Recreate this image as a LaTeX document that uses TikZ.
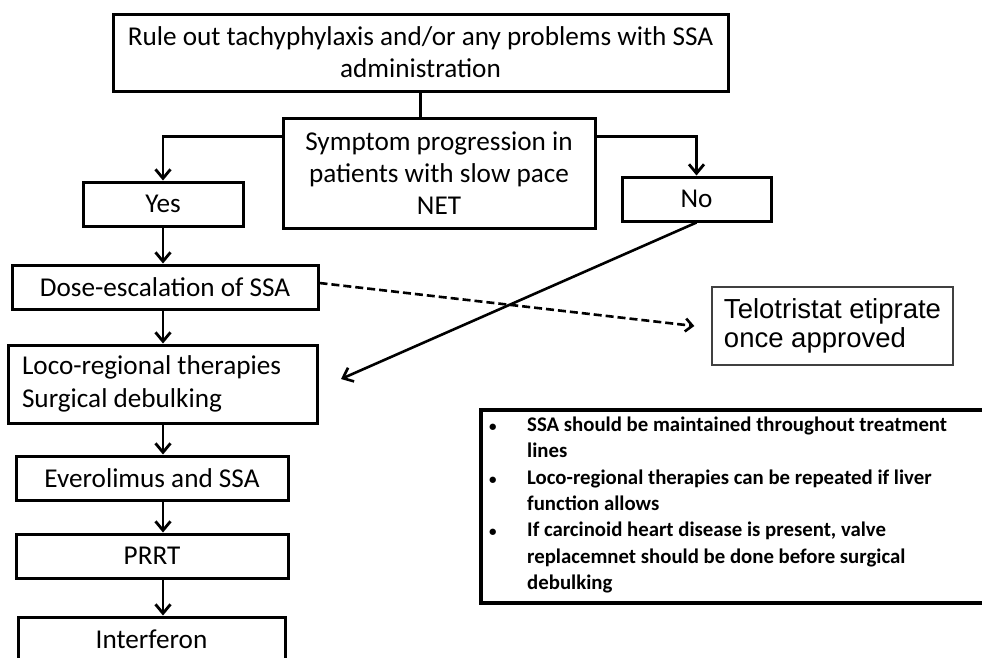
\documentclass[tikz,border=0pt]{standalone}
\usepackage{fontspec}
\setmainfont{Carlito}
\newfontfamily\arialf{Liberation Sans}
\usetikzlibrary{arrows.meta}
\begin{document}
\begin{tikzpicture}[x=1pt,y=-1pt,
  box/.style={draw, line width=3pt, inner sep=0pt, align=center,
    font=\fontsize{27.2}{32}\selectfont},
  conn/.style={line width=2.8pt},
  arr/.style={line width=2.8pt, -{Straight Barb[length=9pt,width=15pt,line width=2.8pt]}},
  dasharr/.style={line width=2.6pt, dash pattern=on 8pt off 4pt,
    -{Straight Barb[length=7pt,width=13pt,line width=2.6pt]}}]
\useasboundingbox (0,0) rectangle (982,657);
\clip (0,0) rectangle (982,657);
\fill[white] (0,0) rectangle (982,657);

\node[box, minimum width=615, minimum height=77] (top) at (420.5,52.5)
  {Rule out tachyphylaxis and/or any problems with SSA\\administration};
\node[box, minimum width=312, minimum height=110] (symptom) at (439,173)
  {Symptom progression in\\patients with slow pace\\NET};
\node[box, minimum width=160, minimum height=44] (yes) at (163,204) {Yes};
\node[box, minimum width=149, minimum height=44] (no) at (696.5,199) {No};
\node[box, minimum width=306, minimum height=44] (dose) at (165,287) {Dose-escalation of SSA};
\node[box, align=flush left, text width=281, inner xsep=14pt, minimum height=78,
  font=\fontsize{27.2}{33}\selectfont] (loco) at (162.5,384)
  {Loco-regional therapies\\Surgical debulking};
\node[box, minimum width=272, minimum height=44] (evero) at (152,478) {Everolimus and SSA};
\node[box, minimum width=272, minimum height=44] (prrt) at (152,556) {PRRT};
\node[box, minimum width=267, minimum height=44] (interf) at (151.5,639) {Interferon};

\node[draw=black!75, line width=1.3pt, inner xsep=12pt, inner ysep=0pt, align=left,
  minimum height=78, font=\arialf\fontsize{27.5}{28.5}\selectfont] (telo) at (832.5,326)
  {Telotristat etiprate\\once approved};

\node[draw, line width=3.2pt, minimum width=504, minimum height=193, inner sep=0pt] (notes) at (733,506.5) {};
\node[anchor=north west, inner sep=0pt, font=\fontsize{20.8}{26.3}\selectfont\bfseries] (notestext) at (489,413)
  {\begin{tabular}{@{}p{38pt}@{}l@{}}
  {\fontsize{15}{15}\selectfont\textbullet} & SSA should be maintained throughout treatment\\
   & lines\\
  {\fontsize{15}{15}\selectfont\textbullet} & Loco-regional therapies can be repeated if liver\\
   & function allows\\
  {\fontsize{15}{15}\selectfont\textbullet} & If carcinoid heart disease is present, valve\\
   & replacemnet should be done before surgical\\
   & debulking
  \end{tabular}};

\draw[conn] (top.south) -- (top.south |- symptom.north);
\draw[arr] ([yshift=-20pt]symptom.north west) -| (yes.north);
\draw[arr] ([yshift=-20pt]symptom.north east) -| (no.north);
\draw[arr] (yes.south) -- (dose.north -| yes.south);
\draw[arr] (dose.south -| yes.south) -- (loco.north -| yes.south);
\draw[arr] (loco.south -| yes.south) -- (evero.north -| yes.south);
\draw[arr] (evero.south -| yes.south) -- (prrt.north -| yes.south);
\draw[arr] (prrt.south -| yes.south) -- (interf.north -| yes.south);
\coordinate (noend) at (341,379);
\draw[line width=2.6pt, -{Straight Barb[length=9pt,width=15pt,line width=2.6pt]}] (no.south) -- (noend);
\draw[dasharr] ([yshift=4pt]dose.east) -- ([xshift=-17pt]telo.west);
\end{tikzpicture}
\end{document}
